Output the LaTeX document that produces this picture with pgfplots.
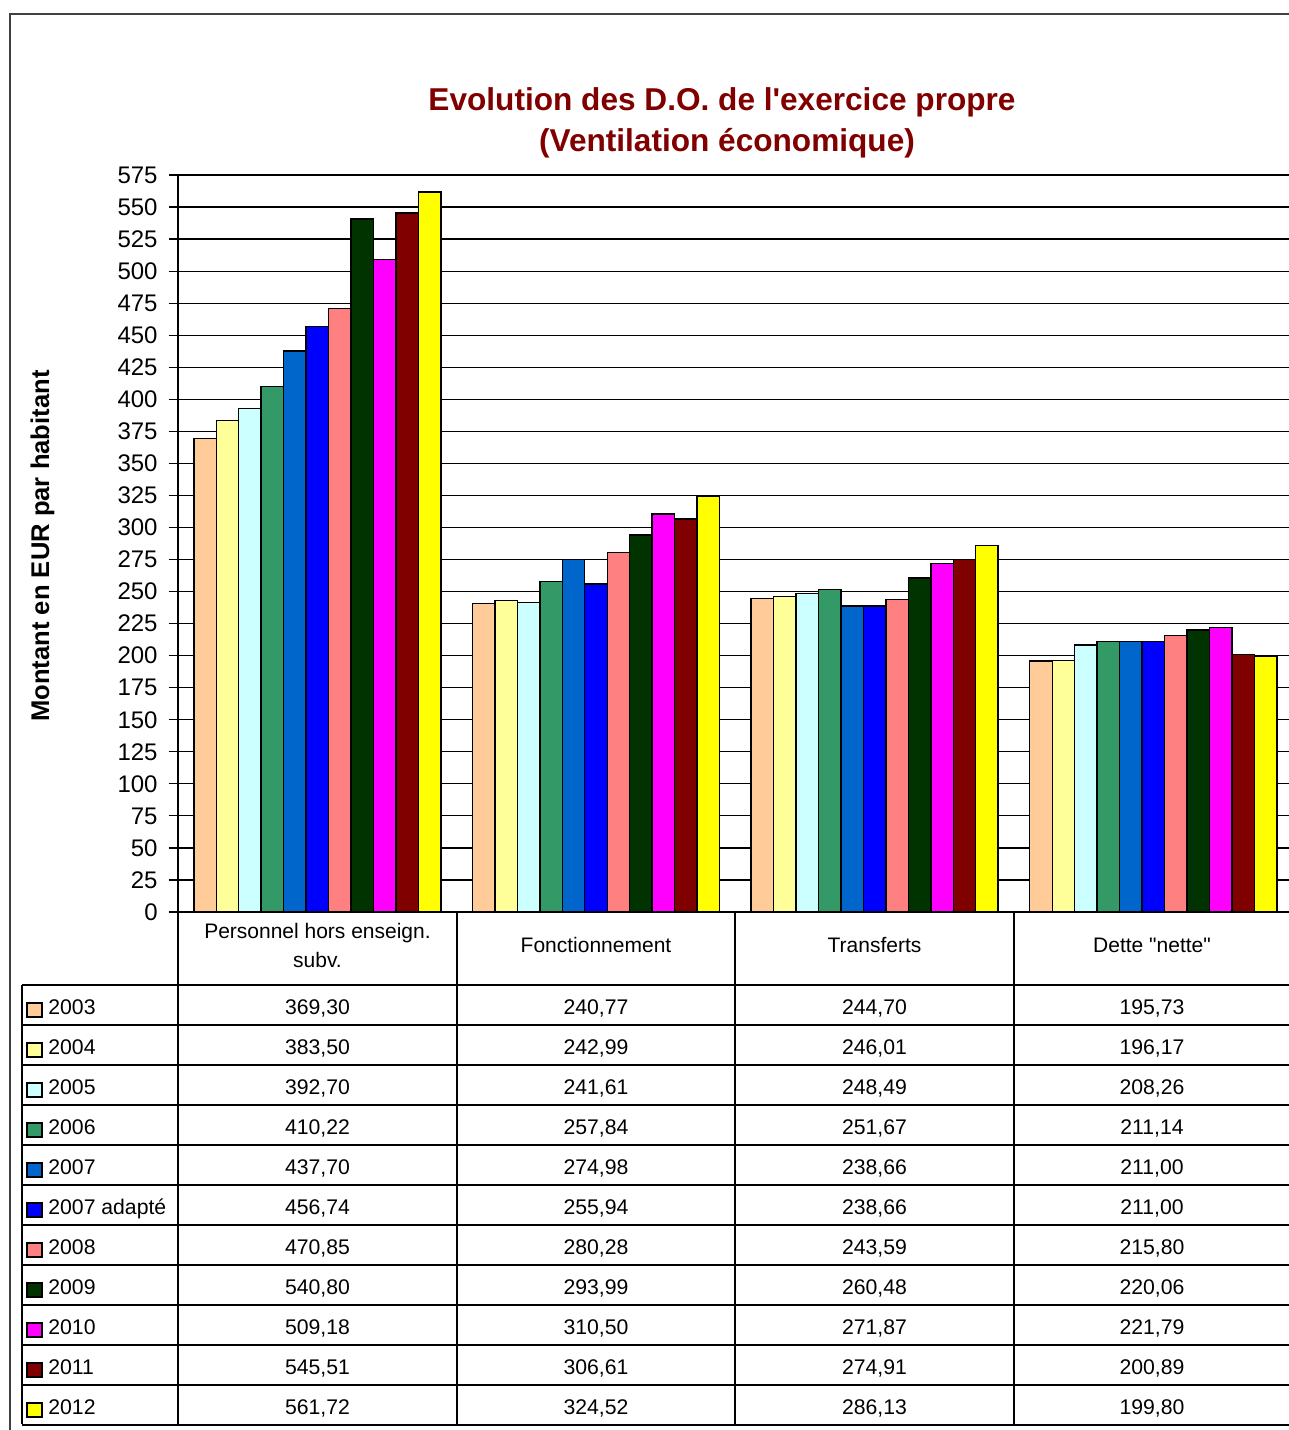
\documentclass[border=0pt]{standalone}
\usepackage{pgfplots}
\pgfplotsset{compat=1.18}
\usepackage{pgfplotstable}
\usepackage{fontspec}
\setmainfont{Liberation Sans}

% Excel-like palette, one colour per year
\definecolor{c2003}{HTML}{FFCC99}
\definecolor{c2004}{HTML}{FFFF99}
\definecolor{c2005}{HTML}{CCFFFF}
\definecolor{c2006}{HTML}{339966}
\definecolor{c2007}{HTML}{0066CC}
\definecolor{c2007a}{HTML}{0000FF}
\definecolor{c2008}{HTML}{FF8080}
\definecolor{c2009}{HTML}{003300}
\definecolor{c2010}{HTML}{FF00FF}
\definecolor{c2011}{HTML}{800000}
\definecolor{c2012}{HTML}{FFFF00}
\definecolor{titlered}{HTML}{800000}

% one row per category (x position of its centre), one column per year
\pgfplotstableread{
pos p2003  p2004  p2005  p2006  p2007  p2007a p2008  p2009  p2010  p2011  p2012
0.5 369.30 383.50 392.70 410.22 437.70 456.74 470.85 540.80 509.18 545.51 561.72
1.5 240.77 242.99 241.61 257.84 274.98 255.94 280.28 293.99 310.50 306.61 324.52
2.5 244.70 246.01 248.49 251.67 238.66 238.66 243.59 260.48 271.87 274.91 286.13
3.5 195.73 196.17 208.26 211.14 211.00 211.00 215.80 220.06 221.79 200.89 199.80
}\data

\begin{document}
\begin{tikzpicture}
\useasboundingbox (0,0) rectangle (644.5pt,-715pt);
\clip (0,0) rectangle (644.5pt,-715pt);

\begin{axis}[
  at={(89pt,-456pt)}, anchor=south west,
  scale only axis, width=557.33pt, height=368.5pt,
  xmin=0, xmax=4, ymin=0, ymax=575,
  xtick=\empty,
  ytick={0,25,...,575},
  axis lines*=left,
  axis line style={line width=0.6pt},
  tick align=outside,
  major tick length=4.5pt,
  tick style={line width=0.6pt, black},
  ymajorgrids,
  grid style={line width=0.6pt, black},
  yticklabel style={/pgf/number format/assume math mode=true,
    font=\fontsize{12}{14}\selectfont, inner sep=0pt},
  yticklabel shift=5.5pt,
  ybar=0pt, bar width=0.0806,
  every axis plot/.append style={draw=black, line width=0.7pt},
]
\addplot[fill=c2003]  table[x=pos,y=p2003]{\data};
\addplot[fill=c2004]  table[x=pos,y=p2004]{\data};
\addplot[fill=c2005]  table[x=pos,y=p2005]{\data};
\addplot[fill=c2006]  table[x=pos,y=p2006]{\data};
\addplot[fill=c2007]  table[x=pos,y=p2007]{\data};
\addplot[fill=c2007a] table[x=pos,y=p2007a]{\data};
\addplot[fill=c2008]  table[x=pos,y=p2008]{\data};
\addplot[fill=c2009]  table[x=pos,y=p2009]{\data};
\addplot[fill=c2010]  table[x=pos,y=p2010]{\data};
\addplot[fill=c2011]  table[x=pos,y=p2011]{\data};
\addplot[fill=c2012]  table[x=pos,y=p2012]{\data};
\end{axis}

\begin{scope}[x=0.5pt,y=-0.5pt]
  % outer chart frame
  \draw[black!75, line width=1.2pt] (10,1440) -- (10,14) -- (1300,14);

  % title
  \node[anchor=base, inner sep=0, text=titlered, font=\fontsize{15.8}{20}\bfseries\selectfont]
    at (722,110) {Evolution des D.O. de l\textquotesingle exercice propre};
  \node[anchor=base, inner sep=0, text=titlered, font=\fontsize{15.8}{20}\bfseries\selectfont]
    at (727,151) {(Ventilation économique)};

  % y axis label
  \node[rotate=90, anchor=base, inner sep=0, font=\fontsize{12.8}{15}\bfseries\selectfont]
    at (49,546) {Montant en EUR par habitant};

  % data table grid
  \begin{scope}[line width=0.6pt]
    \foreach \xv in {178,457,735,1014} \draw (\xv,912) -- (\xv,1424);
    \draw (22,985) -- (22,1424);
    \foreach \k in {0,...,11} \draw (22,985+40*\k) -- (1300,985+40*\k);
  \end{scope}

  % category headers
  \begin{scope}[font=\fontsize{10.5}{14}\selectfont]
    \node[anchor=base, inner sep=0] at (317.5,938) {Personnel hors enseign.};
    \node[anchor=base, inner sep=0] at (317.5,967) {subv.};
    \node[anchor=base, inner sep=0] at (596,952) {Fonctionnement};
    \node[anchor=base, inner sep=0] at (874.5,952) {Transferts};
    \node[anchor=base, inner sep=0] at (1152,952) {Dette \textquotedbl nette\textquotedbl};
  \end{scope}

  % table rows: legend key, year and values
  \begin{scope}[font=\fontsize{10.6}{14}\selectfont,
      /pgf/number format/.cd, fixed, zerofill, precision=2, use comma,
      1000 sep={}, assume math mode=true]
  \foreach \col/\lab/\clr [count=\k from 0] in {
      p2003/2003/c2003, p2004/2004/c2004, p2005/2005/c2005,
      p2006/2006/c2006, p2007/2007/c2007, p2007a/2007 adapté/c2007a,
      p2008/2008/c2008, p2009/2009/c2009, p2010/2010/c2010,
      p2011/2011/c2011, p2012/2012/c2012}{
    \pgfmathsetmacro\ytop{985+40*\k}
    \filldraw[fill=\clr, draw=black, line width=0.6pt]
      (27,\ytop+18) rectangle (42,\ytop+32);
    \node[anchor=base west, inner sep=0] at (48,\ytop+29) {\lab};
    \foreach \r/\xc in {0/317.5,1/596,2/874.5,3/1152}{
      \pgfplotstablegetelem{\r}{\col}\of\data
      \node[anchor=base, inner sep=0] at (\xc,\ytop+29)
        {\pgfmathprintnumber{\pgfplotsretval}};
    }
  }
  \end{scope}
\end{scope}
\end{tikzpicture}
\end{document}
